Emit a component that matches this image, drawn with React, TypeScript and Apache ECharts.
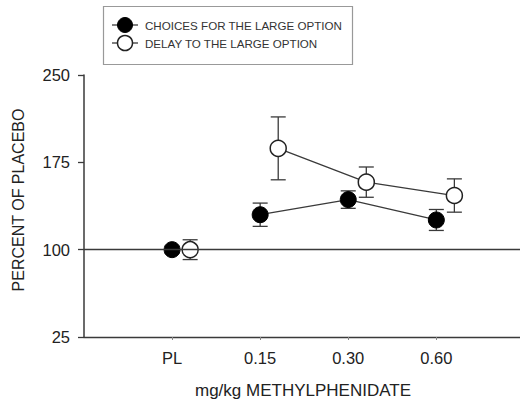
import React, { useEffect, useRef } from "react";
import * as echarts from "echarts";

const categories = ["PL", "0.15", "0.30", "0.60"];
const choicesMean = [100, 130, 143, 125.5];
const choicesErr = [3, 10, 7.5, 9];
const delayMean = [100, 187, 158, 146.5];
const delayErr = [8.5, 27, 13, 14.3];
const yTicks = [25, 100, 175, 250];
const legendLabels = ["CHOICES FOR THE LARGE OPTION", "DELAY TO THE LARGE OPTION"];

const FONT = "'Liberation Sans', Arial, Helvetica, sans-serif";
const INK = "#3a3a3a";
const OFFSET = 0.205;

export default function App() {
  const ref = useRef<HTMLDivElement>(null);
  useEffect(() => {
    if (!ref.current) return;
    const chart = echarts.init(ref.current, null, { renderer: "svg" });
    const xs = categories.map((_, i) => i + 1);
    const choicesPts = xs.map((x, i) => [x, choicesMean[i]]);
    const delayPts = xs.map((x, i) => [x + OFFSET, delayMean[i]]);
    const errData = [
      ...xs.map((x, i) => [x, choicesMean[i] - choicesErr[i], choicesMean[i] + choicesErr[i]]),
      ...xs.map((x, i) => [x + OFFSET, delayMean[i] - delayErr[i], delayMean[i] + delayErr[i]]),
    ];
    const lineStyle = { stroke: INK, lineWidth: 1.3 };
    chart.setOption({
      animation: false,
      backgroundColor: "#ffffff",
      grid: { left: 84, right: 0, top: 75, bottom: 70 },
      xAxis: {
        type: "value",
        min: 0,
        max: 4.95,
        interval: 1,
        axisLine: { show: true, lineStyle: { color: INK, width: 1.3 } },
        axisTick: { show: true, length: 3, customValues: xs, lineStyle: { color: "#888" } },
        axisLabel: {
          customValues: xs,
          formatter: (v: number) => categories[Math.round(v) - 1] ?? "",
          fontFamily: FONT,
          fontSize: 16.5,
          color: "#222",
          margin: 12,
        },
        splitLine: { show: false },
      },
      yAxis: {
        type: "value",
        min: 25,
        max: 250,
        interval: 75,
        axisLine: { show: true, lineStyle: { color: INK, width: 1.5 } },
        axisTick: { show: true, length: 6, lineStyle: { color: INK, width: 1.3 } },
        axisLabel: {
          customValues: yTicks,
          fontFamily: FONT,
          fontSize: 16.5,
          color: "#222",
          margin: 14,
        },
        splitLine: { show: false },
      },
      series: [
        {
          type: "custom",
          z: 2,
          renderItem: (params: any, api: any) => {
            const x = api.value(0);
            const top = api.coord([x, api.value(2)]);
            const bot = api.coord([x, api.value(1)]);
            const cap = 7.5;
            return {
              type: "group",
              children: [
                { type: "line", shape: { x1: top[0], y1: top[1], x2: bot[0], y2: bot[1] }, style: lineStyle },
                { type: "line", shape: { x1: top[0] - cap, y1: top[1], x2: top[0] + cap, y2: top[1] }, style: lineStyle },
                { type: "line", shape: { x1: bot[0] - cap, y1: bot[1], x2: bot[0] + cap, y2: bot[1] }, style: lineStyle },
              ],
            };
          },
          data: errData,
          markLine: {
            silent: true,
            symbol: ["none", "none"],
            label: { show: false },
            lineStyle: { color: INK, width: 1.3, type: "solid" },
            data: [{ yAxis: 100 }],
          },
        },
        {
          type: "line",
          z: 3,
          data: choicesPts.slice(1),
          symbol: "circle",
          symbolSize: 16,
          itemStyle: { color: "#000", borderColor: "#000", borderWidth: 1 },
          lineStyle: { color: INK, width: 1.3 },
        },
        {
          type: "line",
          z: 3,
          data: delayPts.slice(1),
          symbol: "circle",
          symbolSize: 16,
          itemStyle: { color: "#fff", borderColor: "#222", borderWidth: 1.5 },
          lineStyle: { color: INK, width: 1.3 },
        },
        {
          type: "scatter",
          z: 3,
          data: [choicesPts[0]],
          symbol: "circle",
          symbolSize: 16,
          itemStyle: { color: "#000", borderColor: "#000", borderWidth: 1, opacity: 1 },
        },
        {
          type: "scatter",
          z: 3,
          data: [delayPts[0]],
          symbol: "circle",
          symbolSize: 16,
          itemStyle: { color: "#fff", borderColor: "#222", borderWidth: 1.5, opacity: 1 },
        },
      ],
      graphic: [
        {
          type: "rect",
          shape: { x: 103.5, y: 6.5, width: 249, height: 58 },
          style: { fill: "#fff", stroke: "#999", lineWidth: 1.2 },
        },
        { type: "line", shape: { x1: 112, y1: 25, x2: 138, y2: 25 }, style: lineStyle },
        { type: "circle", shape: { cx: 125, cy: 25, r: 7.5 }, style: { fill: "#000", stroke: "#000", lineWidth: 1 } },
        {
          type: "text",
          style: { x: 145, y: 25, text: legendLabels[0], font: `11.6px ${FONT}`, fill: "#333", verticalAlign: "middle" },
        },
        { type: "line", shape: { x1: 112, y1: 43, x2: 138, y2: 43 }, style: lineStyle },
        { type: "circle", shape: { cx: 125, cy: 43, r: 7.5 }, style: { fill: "#fff", stroke: "#222", lineWidth: 1.5 } },
        {
          type: "text",
          style: { x: 145, y: 43, text: legendLabels[1], font: `11.6px ${FONT}`, fill: "#333", verticalAlign: "middle" },
        },
        {
          type: "text",
          x: 18,
          y: 200,
          rotation: Math.PI / 2,
          style: { x: 0, y: 0, text: "PERCENT OF PLACEBO", font: `16px ${FONT}`, fill: "#222", align: "center", verticalAlign: "middle" },
        },
        {
          type: "text",
          style: { x: 303, y: 390, text: "mg/kg METHYLPHENIDATE", font: `17px ${FONT}`, fill: "#222", align: "center", verticalAlign: "middle" },
        },
      ],
    });
    return () => chart.dispose();
  }, []);
  return <div ref={ref} style={{ position: "fixed", left: 0, top: 0, width: 520, height: 407 }} />;
}
